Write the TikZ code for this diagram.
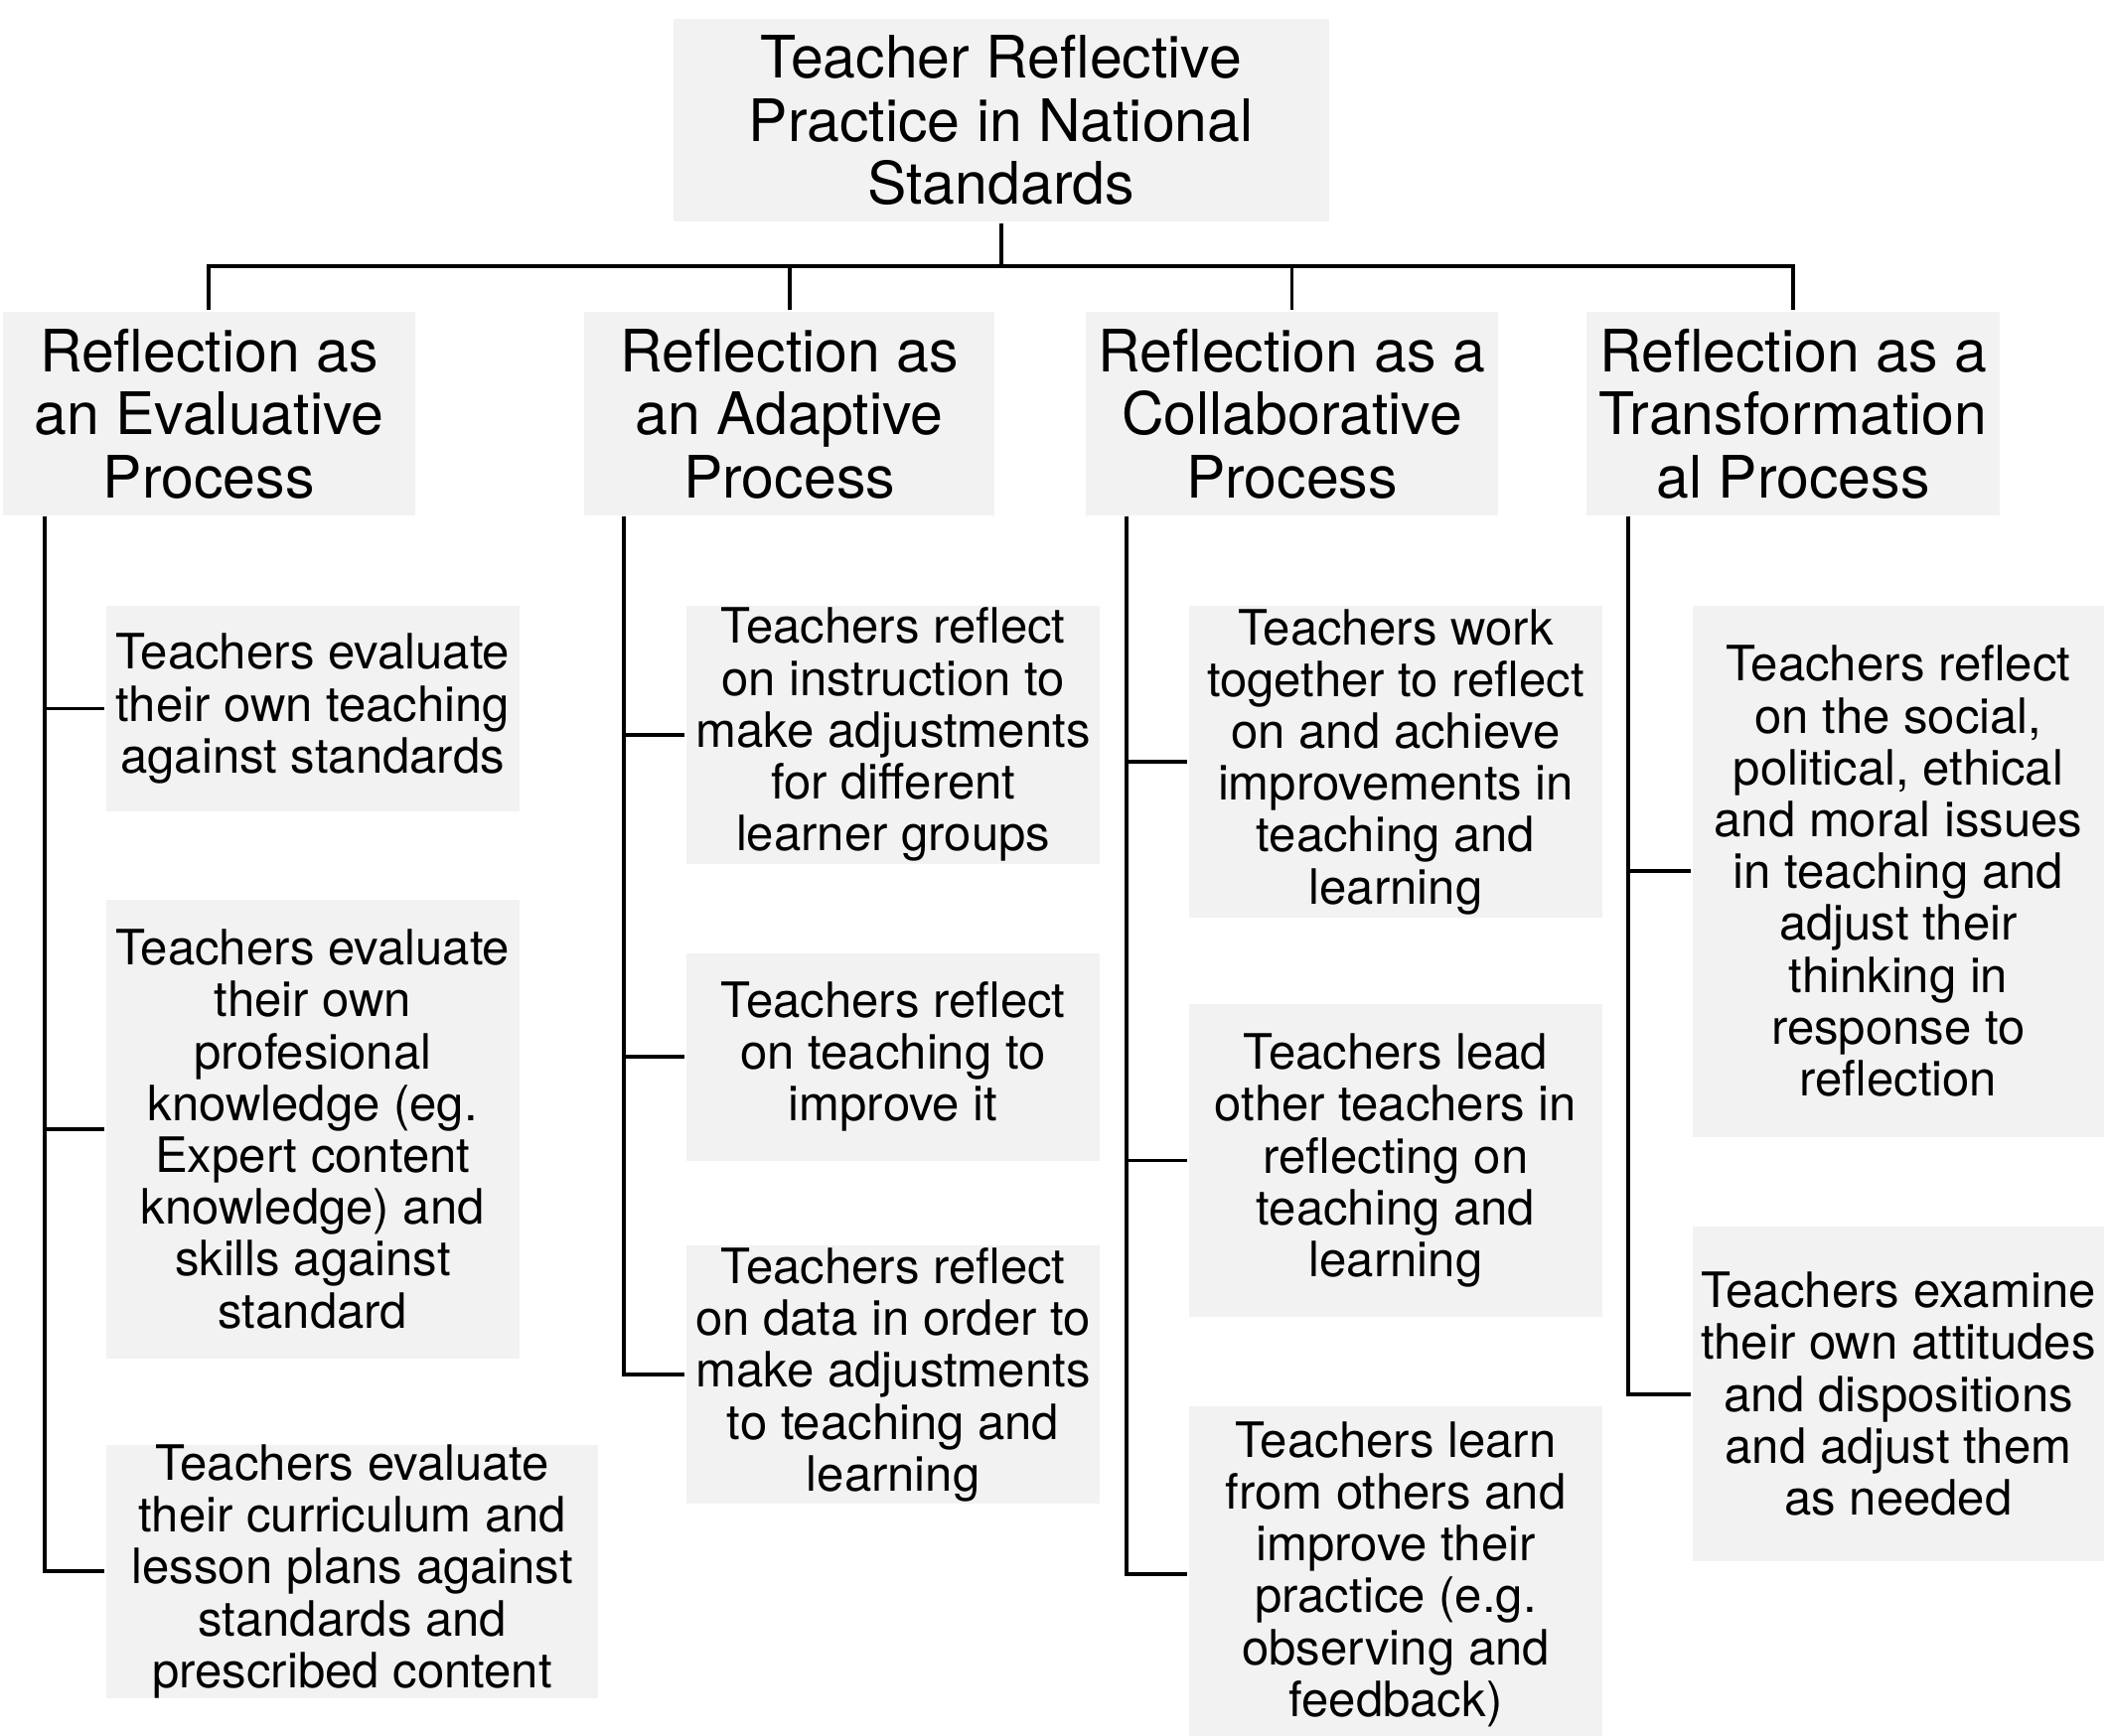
\documentclass[tikz,border=0pt]{standalone}
\usepackage{fontspec}
\setmainfont{TeX Gyre Heros}
\definecolor{boxgray}{HTML}{F2F2F2}
\begin{document}
\begin{tikzpicture}[x=0.01cm,y=-0.01cm,thick,
    box/.style={fill=boxgray,inner sep=0pt,align=center},
    head node/.style={box,font=\fontsize{12.2}{13.1}\selectfont},
    leaf node/.style={box,font=\fontsize{10.15}{10.8}\selectfont}]
  \useasboundingbox (0,0) rectangle (1545,1271);
  % root and categories
  \node[head node,minimum width=4.8cm,minimum height=1.48cm] (root) at (733,88) {Teacher Reflective\\Practice in National\\Standards};
  \node[head node,minimum width=3.02cm,minimum height=1.49cm] (eval) at (153,303) {Reflection as\\an Evaluative\\Process};
  \node[head node,minimum width=3.0cm,minimum height=1.49cm] (adapt) at (578,303) {Reflection as\\an Adaptive\\Process};
  \node[head node,minimum width=3.02cm,minimum height=1.49cm] (collab) at (946,303) {Reflection as a\\Collaborative\\Process};
  \node[head node,minimum width=3.03cm,minimum height=1.49cm] (trans) at (1313,303) {Reflection as a\\Transformation\\al Process};

  % leaves
  \node[leaf node,minimum width=3.02cm,minimum height=1.5cm] (e1) at (229,519) {Teachers evaluate\\their own teaching\\against standards};
  \node[leaf node,minimum width=3.02cm,minimum height=3.36cm] (e2) at (229,827) {Teachers evaluate\\their own\\profesional\\knowledge (eg.\\Expert content\\knowledge) and\\skills against\\standard};
  \node[leaf node,minimum width=3.6cm,minimum height=1.84cm] (e3) at (258,1151) {Teachers evaluate\\their curriculum and\\lesson plans against\\standards and\\prescribed content};
  \node[leaf node,minimum width=3.03cm,minimum height=1.89cm] (a1) at (654,538) {Teachers reflect\\on instruction to\\make adjustments\\for different\\learner groups};
  \node[leaf node,minimum width=3.03cm,minimum height=1.52cm] (a2) at (654,774) {Teachers reflect\\on teaching to\\improve it};
  \node[leaf node,minimum width=3.03cm,minimum height=1.89cm] (a3) at (654,1007) {Teachers reflect\\on data in order to\\make adjustments\\to teaching and\\learning};
  \node[leaf node,minimum width=3.02cm,minimum height=2.28cm] (c1) at (1022,558) {Teachers work\\together to reflect\\on and achieve\\improvements in\\teaching and\\learning};
  \node[leaf node,minimum width=3.02cm,minimum height=2.29cm] (c2) at (1022,850) {Teachers lead\\other teachers in\\reflecting on\\teaching and\\learning};
  \node[leaf node,minimum width=3.02cm,minimum height=2.46cm] (c3) at (1022,1153) {Teachers learn\\from others and\\improve their\\practice (e.g.\\observing and\\feedback)};
  \node[leaf node,minimum width=3.01cm,minimum height=3.89cm] (t1) at (1390,638) {Teachers reflect\\on the social,\\political, ethical\\and moral issues\\in teaching and\\adjust their\\thinking in\\response to\\reflection};
  \node[leaf node,minimum width=3.01cm,minimum height=2.45cm] (t2) at (1390,1021) {Teachers examine\\their own attitudes\\and dispositions\\and adjust them\\as needed};

  % tree from root to categories
  \coordinate (bus) at (733,195);
  \draw (root.south) -- (bus);
  \draw (eval.north) |- (bus) -| (trans.north);
  \draw (adapt.north) -- (adapt.north |- bus);
  \draw (collab.north) -- (collab.north |- bus);

  % trunks and branches
  \foreach \cat/\tx/\leaves in {eval/33/{e1,e2,e3},adapt/457/{a1,a2,a3},collab/825/{c1,c2,c3},trans/1192/{t1,t2}} {
    \coordinate (\cat top) at (\tx,378);
    \foreach \leaf in \leaves {
      \draw (\cat top) |- (\leaf.west);
    }
  }
\end{tikzpicture}
\end{document}
